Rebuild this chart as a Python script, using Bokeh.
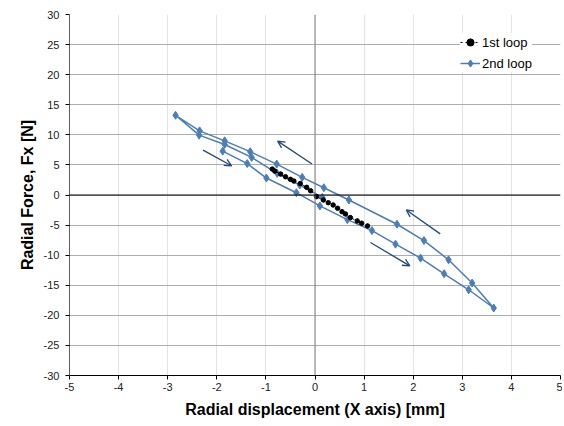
from bokeh.plotting import figure
from bokeh.models import Range1d, FixedTicker, Span, Arrow, OpenHead
from bokeh.embed import file_html
from bokeh.resources import INLINE

# 1st loop (black dots)
loop1_x = [-0.87, -0.82, -0.70, -0.60, -0.50, -0.43, -0.30, -0.17, -0.09, 0.03,
           0.17, 0.27, 0.37, 0.46, 0.55, 0.62, 0.72, 0.86, 0.95, 1.07]
loop1_y = [4.31, 3.98, 3.48, 3.03, 2.60, 2.32, 1.91, 1.28, 0.71, -0.28,
           -0.83, -1.28, -1.66, -2.20, -2.77, -3.15, -3.76, -4.31, -4.69, -5.14]

# 2nd loop (blue): lower branch to the right, upper branch back left, middle branch down
loop2_x = [-1.88, -1.38, -0.99, -0.38, 0.10, 0.66, 1.16, 1.64, 2.15, 2.63, 3.13, 3.64,
           3.20, 2.72, 2.22, 1.67, 0.69, 0.18, -0.26, -0.78, -1.32, -1.84, -2.35, -2.84,
           -2.36, -1.84, -1.29, -0.77, -0.31, 0.15]
loop2_y = [7.29, 5.22, 2.82, 0.38, -1.82, -4.09, -5.92, -8.17, -10.49, -13.09, -15.75, -18.78,
           -14.64, -10.77, -7.57, -4.86, -0.83, 1.21, 2.93, 5.14, 7.20, 9.00, 10.66, 13.25,
           9.95, 8.40, 6.25, 3.60, 1.66, -0.41]

x_ticks = list(range(-5, 6))
y_ticks = list(range(-30, 31, 5))

# direction arrows: (tail x, tail y, head x, head y)
arrow_tail_x = [-0.06, -2.28, 2.55, 1.13]
arrow_tail_y = [5.14, 7.46, -6.46, -7.90]
arrow_head_x = [-0.76, -1.70, 1.86, 1.93]
arrow_head_y = [8.95, 4.86, -2.49, -11.77]

FONT = "Liberation Sans"
BLUE = "#4A7EBB"

p = figure(width=562, height=420, output_backend="svg", toolbar_location=None,
           x_range=Range1d(-5, 5), y_range=Range1d(-30, 30),
           min_border_left=69, min_border_right=2, min_border_top=14, min_border_bottom=44)
p.outline_line_color = None
p.background_fill_color = "white"
p.border_fill_color = "white"

# grids
p.xgrid.ticker = FixedTicker(ticks=x_ticks)
p.ygrid.ticker = FixedTicker(ticks=y_ticks)
p.xgrid.grid_line_color = "#E3E3E3"
p.ygrid.grid_line_color = "#ADADAD"
p.xgrid.grid_line_width = 1
p.ygrid.grid_line_width = 1

# axes
for ax in (p.xaxis[0], p.yaxis[0]):
    ax.major_label_text_font = FONT
    ax.major_label_text_font_size = "11px"
    ax.major_label_text_color = "#222222"
    ax.axis_label_text_font = FONT
    ax.axis_label_text_font_style = "bold"
    ax.axis_label_text_font_size = "16px"
    ax.axis_label_text_color = "#000000"
    ax.minor_tick_line_color = None
    ax.major_tick_in = 0
    ax.major_tick_out = 4
    ax.axis_line_color = "#000000"
    ax.major_tick_line_color = "#000000"

p.xaxis.ticker = FixedTicker(ticks=x_ticks)
p.yaxis.ticker = FixedTicker(ticks=y_ticks)
p.xaxis.major_label_overrides = {t: str(t) for t in x_ticks}
p.yaxis.major_label_overrides = {t: str(t) for t in y_ticks}
p.xaxis.axis_label = "Radial displacement (X axis) [mm]"
p.yaxis.axis_label = "Radial Force, Fx [N]"
p.xaxis.major_label_standoff = 3
p.xaxis.axis_label_standoff = 7
p.yaxis.major_label_standoff = 6
p.yaxis.axis_label_standoff = 5
p.yaxis.axis_line_color = "#606060"

# zero lines
p.add_layout(Span(location=0, dimension="height", line_color="#7F7F7F", line_width=1))
p.add_layout(Span(location=0, dimension="width", line_color="#000000", line_width=1.2))

# series
p.line(loop2_x, loop2_y, line_color=BLUE, line_width=1.5, legend_label="2nd loop")
p.scatter(loop2_x, loop2_y, marker="diamond", size=8, fill_color=BLUE, line_color=BLUE,
          legend_label="2nd loop")
p.line(loop1_x, loop1_y, line_color="#000000", line_width=1, line_dash="2 3", legend_label="1st loop")
p.scatter(loop1_x, loop1_y, marker="circle", size=4.5, fill_color="#000000", line_color="#000000",
          legend_label="1st loop")

# arrows
for tx, ty, hx, hy in zip(arrow_tail_x, arrow_tail_y, arrow_head_x, arrow_head_y):
    p.add_layout(Arrow(end=OpenHead(size=7, line_color="#1F497D", line_width=1.3),
                       x_start=tx, y_start=ty, x_end=hx, y_end=hy,
                       line_color="#1F497D", line_width=1.3))

# legend
lg = p.legend[0]
lg.items = [lg.items[1], lg.items[0]]
lg.location = (391, 303)
lg.border_line_color = None
lg.background_fill_color = "white"
lg.background_fill_alpha = 1.0
lg.label_text_font = FONT
lg.label_text_font_size = "13px"
lg.label_text_color = "#000000"
lg.glyph_width = 20
lg.glyph_height = 18
lg.label_height = 18
lg.label_standoff = 2
lg.spacing = 3
lg.padding = 3
lg.margin = 0

open("out.html", "w").write(file_html(p, INLINE))
